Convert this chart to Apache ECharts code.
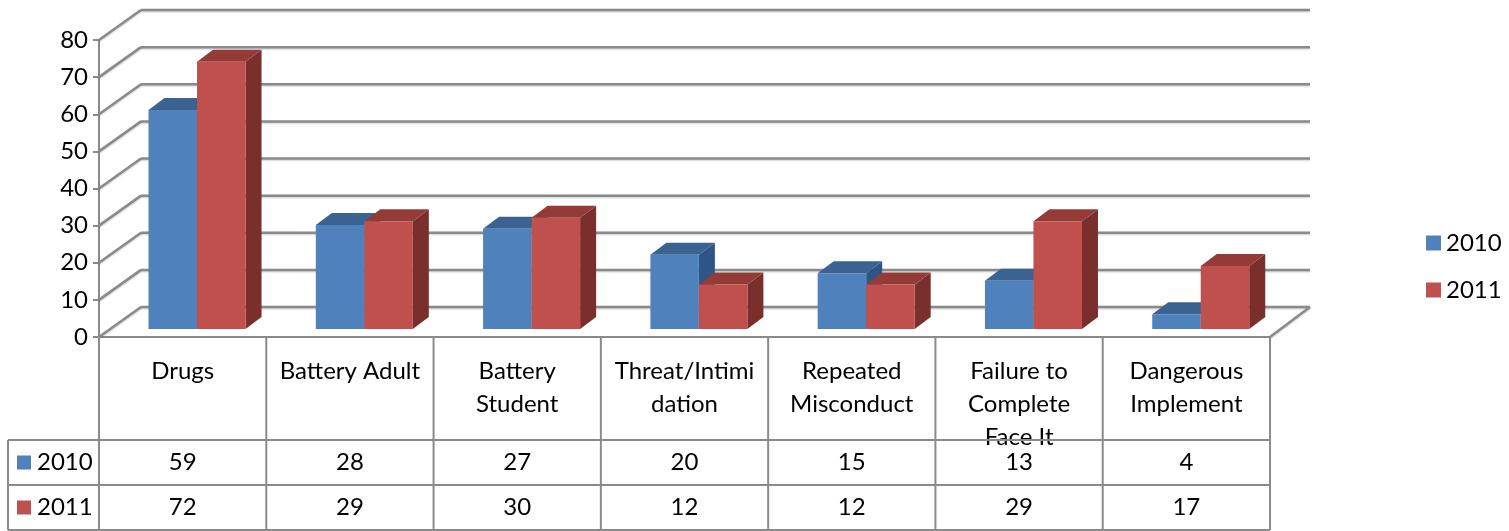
<!DOCTYPE html>
<html><head><meta charset="utf-8">
<script src="https://cdn.jsdelivr.net/npm/echarts@6/dist/echarts.min.js"></script>
<style>html,body{margin:0;padding:0;background:#fff}#c{width:1509px;height:531px}</style>
</head><body><div id="c"></div>
<script>
const categories = ['Drugs','Battery Adult','Battery Student','Threat/Intimidation','Repeated Misconduct','Failure to Complete Face It','Dangerous Implement'];
const categoryLabels = ['Drugs','Battery Adult','Battery\nStudent','Threat/Intimi\ndation','Repeated\nMisconduct','Failure to\nComplete\nFace It','Dangerous\nImplement'];
const seriesNames = ['2010','2011'];
const values2010 = [59,28,27,20,15,13,4];
const values2011 = [72,29,30,12,12,29,17];
const yTicks = [0,10,20,30,40,50,60,70,80];

const FONT = 'Lato';
const GRID = '#8a8a8a';
const faces = [
  {front:'#4F81BD', top:'#3B6392', side:'#2F5486'},
  {front:'#C0504D', top:'#943B38', side:'#7A2F2D'}
];
const DEPTH = {dx:42, dy:-30};
const BAR_D = {dx:16, dy:-12};

function barRender(s){
  return function(params, api){
    const cat = api.value(0), val = api.value(1);
    const cs = params.coordSys;
    const band = cs.width / categories.length;
    const base = api.coord([cat, 0]);
    const top = api.coord([cat, val]);
    const bw = band * 0.29;
    const cx = base[0] + band * 0.086;
    const x0 = s === 0 ? cx - bw : cx;
    const x1 = x0 + bw;
    const yb = base[1] - 8, yt = top[1] - 8;
    const f = faces[s];
    return {type:'group', children:[
      {type:'polygon', shape:{points:[[x1,yt],[x1+BAR_D.dx,yt+BAR_D.dy],[x1+BAR_D.dx,yb+BAR_D.dy],[x1,yb]]}, style:{fill:f.side}},
      {type:'polygon', shape:{points:[[x0,yt],[x1,yt],[x1+BAR_D.dx,yt+BAR_D.dy],[x0+BAR_D.dx,yt+BAR_D.dy]]}, style:{fill:f.top}},
      {type:'rect', shape:{x:x0, y:yt, width:bw, height:yb-yt}, style:{fill:f.front}}
    ]};
  };
}

function gridRender(params, api){
  const v = api.value(0);
  const cs = params.coordSys;
  const y = api.coord([0, v])[1];
  const st = {stroke:GRID, lineWidth:2.5, shadowColor:'rgba(0,0,0,0.2)', shadowBlur:2, shadowOffsetY:1};
  const ch = [
    {type:'line', shape:{x1:cs.x, y1:y, x2:cs.x+DEPTH.dx, y2:y+DEPTH.dy}, style:st},
    {type:'line', shape:{x1:cs.x+DEPTH.dx, y1:y+DEPTH.dy, x2:cs.x+cs.width+DEPTH.dx-2, y2:y+DEPTH.dy}, style:st}
  ];
  if (v === 0) {
    ch.push({type:'line', shape:{x1:cs.x+cs.width, y1:y, x2:cs.x+cs.width+DEPTH.dx-2, y2:y+DEPTH.dy}, style:st});
  }
  return {type:'group', children:ch};
}

function tableRender(params, api){
  const i = api.value(0);
  const cs = params.coordSys;
  const band = cs.width / categories.length;
  const gb = cs.y + cs.height;
  const yEnd = 530;
  const r1 = gb + 103, r2 = gb + 148;
  const cx = api.coord([i, 0])[0];
  const ls = {stroke:GRID, lineWidth:2};
  const ts = {font:'24px ' + FONT, fill:'#000', align:'center', verticalAlign:'middle'};
  const ch = [
    {type:'line', shape:{x1:cs.x+(i+1)*band, y1:gb, x2:cs.x+(i+1)*band, y2:yEnd}, style:ls},
    {type:'text', style:Object.assign({text:String(api.value(1)), x:cx, y:(r1+r2)/2}, ts)},
    {type:'text', style:Object.assign({text:String(api.value(2)), x:cx, y:(r2+yEnd)/2}, ts)}
  ];
  if (i === 0) {
    const lx = 8;
    ch.push({type:'line', shape:{x1:cs.x, y1:gb, x2:cs.x, y2:yEnd}, style:ls});
    ch.push({type:'line', shape:{x1:lx, y1:r1, x2:lx, y2:yEnd}, style:ls});
    [r1, r2, yEnd].forEach(function(ry){
      ch.push({type:'line', shape:{x1:lx, y1:ry, x2:cs.x+cs.width, y2:ry}, style:ls});
    });
    [(r1+r2)/2, (r2+yEnd)/2].forEach(function(cy, k){
      ch.push({type:'rect', shape:{x:17, y:cy-7, width:14, height:14}, style:{fill:faces[k].front}});
      ch.push({type:'text', style:{text:seriesNames[k], x:37, y:cy, font:'24px ' + FONT, fill:'#000', align:'left', verticalAlign:'middle'}});
    });
  }
  return {type:'group', children:ch};
}

const chart = echarts.init(document.getElementById('c'), null, {renderer:'canvas'});
chart.setOption({
  animation:false,
  backgroundColor:'#fff',
  textStyle:{fontFamily:FONT},
  grid:{left:99, right:239, top:40, bottom:194},
  legend:{
    data:seriesNames, orient:'vertical', left:1421, top:226,
    icon:'rect', itemWidth:15, itemHeight:15, itemGap:23,
    textStyle:{fontSize:24, fontFamily:FONT, color:'#000', lineHeight:24}
  },
  xAxis:{
    type:'category', data:categories,
    axisLine:{lineStyle:{color:GRID, width:2}},
    axisTick:{show:false},
    axisLabel:{interval:0, fontSize:24, fontFamily:FONT, color:'#000', lineHeight:33, margin:18,
      formatter:function(v, idx){ return categoryLabels[idx]; }},
    splitLine:{show:false}
  },
  yAxis:{
    type:'value', min:0, max:80, interval:10,
    axisLine:{show:true, lineStyle:{color:GRID, width:2}},
    axisTick:{show:true, length:6, lineStyle:{color:GRID, width:2}},
    axisLabel:{fontSize:24, fontFamily:FONT, color:'#000', margin:11},
    splitLine:{show:false}
  },
  series:[
    {type:'custom', name:'grid', renderItem:gridRender, data:yTicks.map(function(v){return [v];}), clip:false, silent:true, z:1},
    {type:'custom', name:seriesNames[0], renderItem:barRender(0), itemStyle:{color:faces[0].front},
      data:values2010.map(function(v,i){return [i,v];}), clip:false, z:3},
    {type:'custom', name:seriesNames[1], renderItem:barRender(1), itemStyle:{color:faces[1].front},
      data:values2011.map(function(v,i){return [i,v];}), clip:false, z:3},
    {type:'custom', name:'table', renderItem:tableRender,
      data:categories.map(function(c,i){return [i, values2010[i], values2011[i]];}), clip:false, silent:true, z:4}
  ]
});
</script>
</body></html>
